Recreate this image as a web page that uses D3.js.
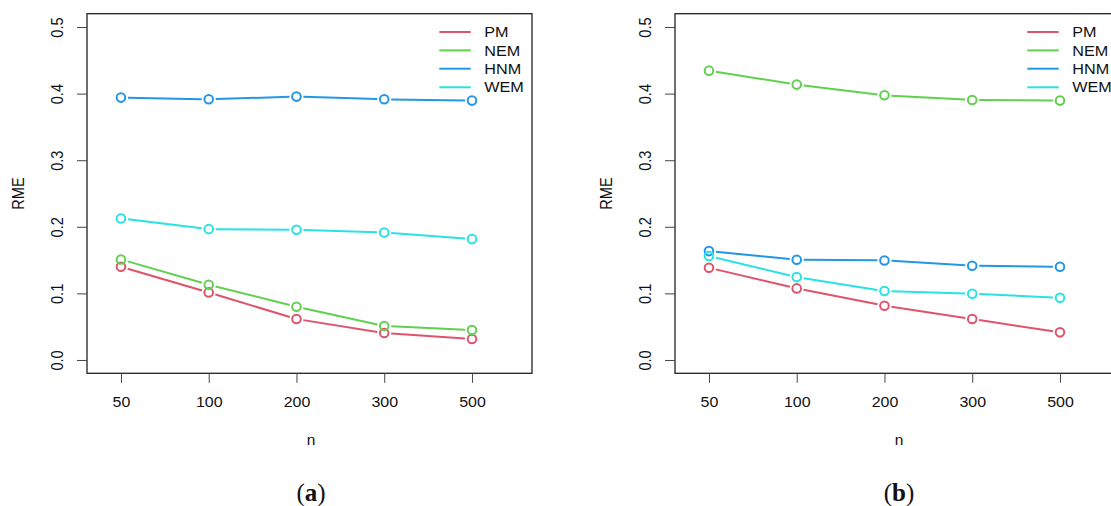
<!DOCTYPE html>
<html>
<head>
<meta charset="utf-8">
<script src="https://cdn.jsdelivr.net/npm/d3@7"></script>
<style>
  html, body { margin: 0; padding: 0; background: #fff; }
  svg { display: block; font-family: "Liberation Sans", Arial, Helvetica, sans-serif; }
</style>
</head>
<body>
<svg id="chart" width="1111" height="506"></svg>
<script>
// sample sizes on the x axis
var nLabels = ["50", "100", "200", "300", "500"];
var yTicks = [0, 0.1, 0.2, 0.3, 0.4, 0.5];
var methods = ["PM", "NEM", "HNM", "WEM"];
var colors = ["#DF536B", "#61D04F", "#2297E6", "#28E2E5"];

// panel (a)
var pmA  = [0.140, 0.1015, 0.0615, 0.0405, 0.0315];
var nemA = [0.151, 0.113, 0.080, 0.051, 0.045];
var hnmA = [0.394, 0.3915, 0.3955, 0.3915, 0.3895];
var wemA = [0.2125, 0.1965, 0.1955, 0.1915, 0.1815];

// panel (b)
var pmB  = [0.1385, 0.1075, 0.0815, 0.0615, 0.0415];
var nemB = [0.4345, 0.4135, 0.3975, 0.3905, 0.3895];
var hnmB = [0.1635, 0.1505, 0.1495, 0.1415, 0.140];
var wemB = [0.156, 0.1245, 0.1035, 0.0995, 0.0935];

var svg = d3.select("#chart");

// the source figure is a little squashed vertically, so text is too
var squash = 0.91;

function hText(parent, x, y, size, str) {
    return parent.append("text")
        .attr("transform", "translate(" + x + "," + y + ") scale(1," + squash + ")")
        .attr("dy", "0.35em")
        .attr("font-size", size).attr("fill", "#111")
        .text(str);
}

function drawPanel(offset, series, tag) {
    var left = 87 + offset, right = 532 + offset, top = 13.7, bottom = 373.3;

    var x = d3.scaleLinear().domain([-0.387, 4.684]).range([left, right]);
    var y = d3.scaleLinear().domain([-0.02, 0.52]).range([bottom, top]);

    var g = svg.append("g");

    // box
    g.append("rect")
        .attr("x", left).attr("y", top)
        .attr("width", right - left).attr("height", bottom - top)
        .attr("fill", "none").attr("stroke", "#222").attr("stroke-width", 1.3);

    // y axis
    var yAxis = g.append("g")
        .attr("transform", "translate(" + left + ",0)")
        .call(d3.axisLeft(y).tickValues(yTicks).tickSize(10).tickSizeOuter(0)
            .tickFormat(d3.format(".1f")));
    yAxis.select(".domain").remove();
    yAxis.selectAll(".tick line").attr("stroke", "#444");
    yAxis.selectAll(".tick text")
        .attr("transform", "rotate(-90) scale(" + squash + ",1)")
        .attr("x", 0).attr("y", -29.5).attr("dy", "0.35em")
        .attr("text-anchor", "middle")
        .attr("font-size", 16).attr("fill", "#111")
        .attr("font-family", "Liberation Sans, Arial, sans-serif");

    // x axis
    var xAxis = g.append("g")
        .attr("transform", "translate(0," + bottom + ")")
        .call(d3.axisBottom(x).tickValues(d3.range(nLabels.length)).tickSize(9.5).tickSizeOuter(0)
            .tickFormat(function(i) { return nLabels[i]; }));
    xAxis.select(".domain").remove();
    xAxis.selectAll(".tick line").attr("stroke", "#444");
    xAxis.selectAll(".tick text")
        .attr("y", 0).attr("dy", "0.35em")
        .attr("transform", "translate(0,28.7) scale(1," + squash + ")")
        .attr("font-size", 16).attr("fill", "#111")
        .attr("font-family", "Liberation Sans, Arial, sans-serif");

    // axis titles
    hText(g, (left + right) / 2 + 1.5, 440, 15.5, "n").attr("text-anchor", "middle");
    g.append("text")
        .attr("transform", "translate(" + (18.3 + offset) + "," + ((top + bottom) / 2) + ") rotate(-90) scale(" + squash + ",1)")
        .attr("dy", "0.35em")
        .attr("text-anchor", "middle").attr("font-size", 16).attr("fill", "#111")
        .text("RME");

    // series, R type="b": segments with gaps around the points
    var gap = 7;
    series.forEach(function(vals, k) {
        var pts = vals.map(function(v, i) { return [x(i), y(v)]; });
        for (var i = 0; i < pts.length - 1; i++) {
            var p = pts[i], q = pts[i + 1];
            var dx = q[0] - p[0], dy = q[1] - p[1];
            var len = Math.sqrt(dx * dx + dy * dy);
            var ux = dx / len, uy = dy / len;
            g.append("line")
                .attr("x1", p[0] + ux * gap).attr("y1", p[1] + uy * gap)
                .attr("x2", q[0] - ux * gap).attr("y2", q[1] - uy * gap)
                .attr("stroke", colors[k]).attr("stroke-width", 2);
        }
        g.selectAll(null).data(pts).enter().append("circle")
            .attr("cx", function(d) { return d[0]; })
            .attr("cy", function(d) { return d[1]; })
            .attr("r", 4.3)
            .attr("fill", "none").attr("stroke", colors[k]).attr("stroke-width", 2);
    });

    // legend (no box)
    var rowY = [32, 50.4, 68.7, 87.3];
    methods.forEach(function(m, k) {
        g.append("line")
            .attr("x1", 439.3 + offset).attr("x2", 470.7 + offset)
            .attr("y1", rowY[k]).attr("y2", rowY[k])
            .attr("stroke", colors[k]).attr("stroke-width", 2);
        hText(g, 484.3 + offset, rowY[k], 16.2, m);
    });

    // sub-caption
    var cap = g.append("text")
        .attr("x", (left + right) / 2 + 1.5).attr("y", 501)
        .attr("text-anchor", "middle")
        .attr("font-family", "Liberation Serif, DejaVu Serif, serif")
        .attr("font-size", 25).attr("fill", "#111");
    cap.append("tspan").text("(");
    cap.append("tspan").attr("font-weight", "bold").text(tag);
    cap.append("tspan").text(")");
}

drawPanel(0, [pmA, nemA, hnmA, wemA], "a");
drawPanel(588, [pmB, nemB, hnmB, wemB], "b");
</script>
</body>
</html>
